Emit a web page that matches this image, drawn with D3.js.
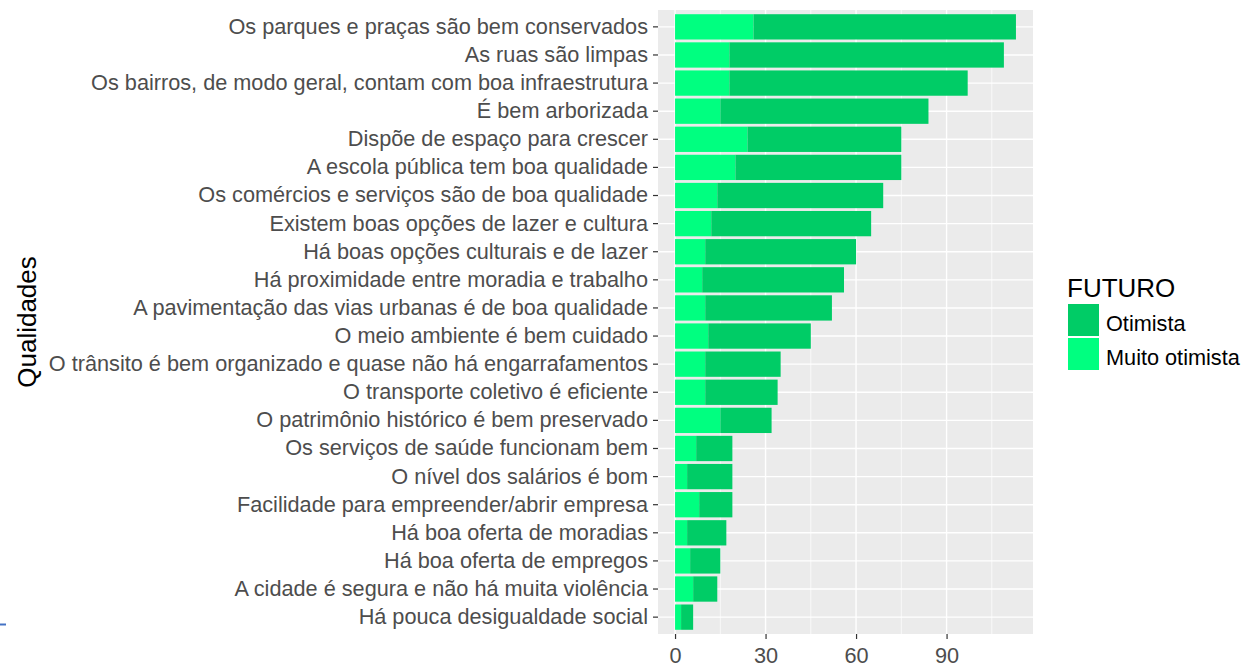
<!DOCTYPE html>
<head>
  <meta charset="utf-8">
  <script src="https://d3js.org/d3.v7.min.js"></script>
  <style>
    body { margin:0; background:#fff; }
    text { font-family: "Liberation Sans", Arial, sans-serif; }
  </style>
</head>
<body>
  <script>
    // categorias, de cima para baixo
    var categorias = [
      "Os parques e praças são bem conservados",
      "As ruas são limpas",
      "Os bairros, de modo geral, contam com boa infraestrutura",
      "É bem arborizada",
      "Dispõe de espaço para crescer",
      "A escola pública tem boa qualidade",
      "Os comércios e serviços são de boa qualidade",
      "Existem boas opções de lazer e cultura",
      "Há boas opções culturais e de lazer",
      "Há proximidade entre moradia e trabalho",
      "A pavimentação das vias urbanas é de boa qualidade",
      "O meio ambiente é bem cuidado",
      "O trânsito é bem organizado e quase não há engarrafamentos",
      "O transporte coletivo é eficiente",
      "O patrimônio histórico é bem preservado",
      "Os serviços de saúde funcionam bem",
      "O nível dos salários é bom",
      "Facilidade para empreender/abrir empresa",
      "Há boa oferta de moradias",
      "Há boa oferta de empregos",
      "A cidade é segura e não há muita violência",
      "Há pouca desigualdade social"
    ];
    var muitoOtimista = [26, 18, 18, 15, 24, 20, 14, 12, 10, 9, 10, 11, 10, 10, 15, 7, 4, 8, 4, 5, 6, 2];
    var otimista      = [87, 91, 79, 69, 51, 55, 55, 53, 50, 47, 42, 34, 25, 24, 17, 12, 15, 11, 13, 10, 8, 4];
    var xTicks = [0, 30, 60, 90];
    var serieNomes = ["Otimista", "Muito otimista"];
    var cores = {"Otimista": "#00CC66", "Muito otimista": "#00FF80"};

    var W = 1241, H = 671;
    var panel = {left: 658, right: 1033, top: 10, bottom: 634};

    var svg = d3.select("body").append("svg")
      .attr("width", W).attr("height", H);

    var dados = categorias.map(function(c, i) {
      return {cat: c, muito: muitoOtimista[i], oti: otimista[i], total: muitoOtimista[i] + otimista[i]};
    });

    var maxT = d3.max(dados, function(d) { return d.total; });
    var exp = maxT * 0.05;
    var x = d3.scaleLinear().domain([-exp, maxT + exp]).range([panel.left, panel.right]);
    var y = d3.scaleBand().domain(categorias).range([panel.top, panel.bottom])
      .paddingInner(0.1).paddingOuter(0.15);

    // fundo do painel
    svg.append("rect")
      .attr("x", panel.left).attr("y", panel.top)
      .attr("width", panel.right - panel.left).attr("height", panel.bottom - panel.top)
      .attr("fill", "#EBEBEB");

    // grade menor
    var minor = [15, 45, 75, 105];
    svg.selectAll(".minor").data(minor).enter().append("line")
      .attr("x1", function(d) { return x(d); }).attr("x2", function(d) { return x(d); })
      .attr("y1", panel.top).attr("y2", panel.bottom)
      .attr("stroke", "#fff").attr("stroke-width", 0.7);

    // grade maior
    svg.selectAll(".majx").data(xTicks).enter().append("line")
      .attr("x1", function(d) { return x(d); }).attr("x2", function(d) { return x(d); })
      .attr("y1", panel.top).attr("y2", panel.bottom)
      .attr("stroke", "#fff").attr("stroke-width", 1.4);
    svg.selectAll(".majy").data(categorias).enter().append("line")
      .attr("x1", panel.left).attr("x2", panel.right)
      .attr("y1", function(d) { return y(d) + y.bandwidth() / 2; })
      .attr("y2", function(d) { return y(d) + y.bandwidth() / 2; })
      .attr("stroke", "#fff").attr("stroke-width", 1.4);

    // barras empilhadas: Muito otimista a partir de zero, Otimista depois
    var g = svg.append("g");
    g.selectAll(".muito").data(dados).enter().append("rect")
      .attr("x", x(0))
      .attr("y", function(d) { return y(d.cat); })
      .attr("width", function(d) { return x(d.muito) - x(0); })
      .attr("height", y.bandwidth())
      .attr("fill", cores["Muito otimista"]);
    g.selectAll(".oti").data(dados).enter().append("rect")
      .attr("x", function(d) { return x(d.muito); })
      .attr("y", function(d) { return y(d.cat); })
      .attr("width", function(d) { return x(d.total) - x(d.muito); })
      .attr("height", y.bandwidth())
      .attr("fill", cores["Otimista"]);

    // eixo x
    var xAxis = d3.axisBottom(x).tickValues(xTicks).tickSize(5).tickPadding(9);
    var gx = svg.append("g")
      .attr("transform", "translate(0," + panel.bottom + ")")
      .call(xAxis);
    gx.select(".domain").remove();
    gx.selectAll("line").attr("stroke", "#333").attr("stroke-width", 1.2);
    gx.selectAll("text").attr("fill", "#4D4D4D").style("font-size", "21.7px");

    // eixo y
    var yAxis = d3.axisLeft(y).tickSize(5).tickPadding(5);
    var gy = svg.append("g")
      .attr("transform", "translate(" + panel.left + ",0)")
      .call(yAxis);
    gy.select(".domain").remove();
    gy.selectAll("line").attr("stroke", "#333").attr("stroke-width", 1.2);
    gy.selectAll("text").attr("fill", "#4D4D4D").style("font-size", "21.7px");

    // título do eixo y
    svg.append("text")
      .attr("transform", "translate(36," + (panel.top + panel.bottom) / 2 + ") rotate(-90)")
      .attr("text-anchor", "middle")
      .style("font-size", "26px")
      .attr("fill", "#000")
      .text("Qualidades");

    // legenda
    var leg = svg.append("g").attr("transform", "translate(1067,0)");
    leg.append("text").attr("x", 0).attr("y", 297)
      .style("font-size", "26px").attr("fill", "#000").text("FUTURO");
    var items = leg.selectAll(".item").data(serieNomes).enter().append("g")
      .attr("transform", function(d, i) { return "translate(1," + (304 + i * 34) + ")"; });
    items.append("rect").attr("width", 31).attr("height", 32)
      .attr("fill", function(d) { return cores[d]; });
    items.append("text").attr("x", 38).attr("y", 27)
      .style("font-size", "21.7px").attr("fill", "#000").text(function(d) { return d; });

    // traço azul no canto
    svg.append("line").attr("x1", 0).attr("x2", 6).attr("y1", 624.5).attr("y2", 624.5)
      .attr("stroke", "#4472C4").attr("stroke-width", 2);
  </script>
</body>
